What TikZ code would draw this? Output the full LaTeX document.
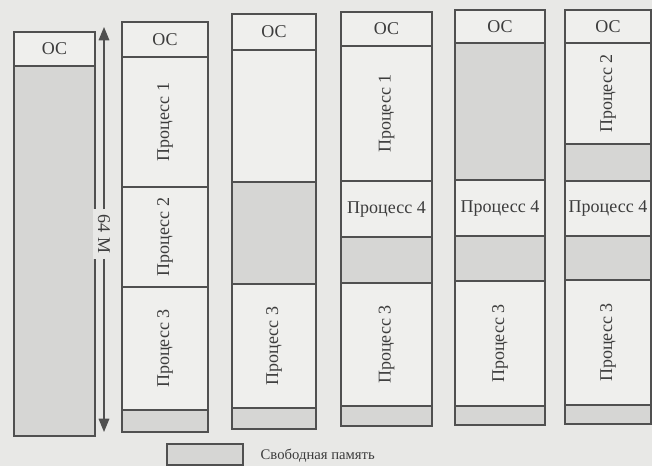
\documentclass[tikz,border=0pt]{standalone}
\usepackage{fontspec}
\setmainfont{Liberation Serif}
\usepackage{tikz}
\usetikzlibrary{arrows.meta}
\definecolor{paper}{HTML}{E8E8E6}
\definecolor{cell}{HTML}{EFEFED}
\definecolor{freefill}{HTML}{D6D6D4}
\definecolor{edge}{HTML}{505050}
\definecolor{ink}{HTML}{3C3C3C}

\begin{document}
\begin{tikzpicture}[
  x=0.75pt,y=-0.75pt,
  >={Triangle[length=10pt,width=8pt]},
  used/.style={draw=edge,fill=cell,line width=0.9pt},
  free/.style={draw=edge,fill=freefill,line width=0.9pt},
  hz/.style={font=\fontsize{13.5}{16}\selectfont,text=ink},
  vt/.style={font=\fontsize{13.5}{16}\selectfont,text=ink,rotate=90},
  nolbl/.style={}
]
% page
\fill[paper] (0,0) rectangle (652,466);
\useasboundingbox (0,0) rectangle (652,466);

% memory columns: x-left/x-right/y-top/y-bottom/fill/label style/label
\foreach \xa/\xb/\ya/\yb/\s/\l/\t [count=\i] in {
  14/95/32/66/used/hz/ОС, 14/95/66/436/free/nolbl/{},
  122/208/22/57/used/hz/ОС, 122/208/57/187/used/vt/Процесс 1,
  122/208/187/287/used/vt/Процесс 2, 122/208/287/410/used/vt/Процесс 3,
  122/208/410/432/free/nolbl/{},
  232/316/14/50/used/hz/ОС, 232/316/50/182/used/nolbl/{},
  232/316/182/284/free/nolbl/{}, 232/316/284/408/used/vt/Процесс 3,
  232/316/408/429/free/nolbl/{},
  341/432/12/46/used/hz/ОС, 341/432/46/181/used/vt/Процесс 1,
  341/432/181/237/used/hz/Процесс 4, 341/432/237/283/free/nolbl/{},
  341/432/283/406/used/vt/Процесс 3, 341/432/406/426/free/nolbl/{},
  455/545/10/43/used/hz/ОС, 455/545/43/180/free/nolbl/{},
  455/545/180/236/used/hz/Процесс 4, 455/545/236/281/free/nolbl/{},
  455/545/281/406/used/vt/Процесс 3, 455/545/406/425/free/nolbl/{},
  565/651/10/43/used/hz/ОС, 565/651/43/144/used/vt/Процесс 2,
  565/651/144/181/free/nolbl/{}, 565/651/181/236/used/hz/Процесс 4,
  565/651/236/280/free/nolbl/{}, 565/651/280/405/used/vt/Процесс 3,
  565/651/405/424/free/nolbl/{}}
{
  \draw[\s] (\xa,\ya) rectangle (\xb,\yb)
    node[midway,\l] (seg\i) {\t};
}

% size of memory
\coordinate (memtop) at (104,27);
\coordinate (membot) at (104,432);
\node[hz,rotate=-90,fill=paper,inner sep=4pt] (size) at (104,234) {64 М};
\draw[->,edge,line width=0.9pt] (size) -- (memtop);
\draw[->,edge,line width=0.9pt] (size) -- (membot);

% legend
\draw[free] (167,444) rectangle (243,465) node[midway] (key) {};
\node[anchor=west,font=\fontsize{11}{13}\selectfont,text=ink] (keytext) at (256,456) {Свободная память};
\end{tikzpicture}
\end{document}
